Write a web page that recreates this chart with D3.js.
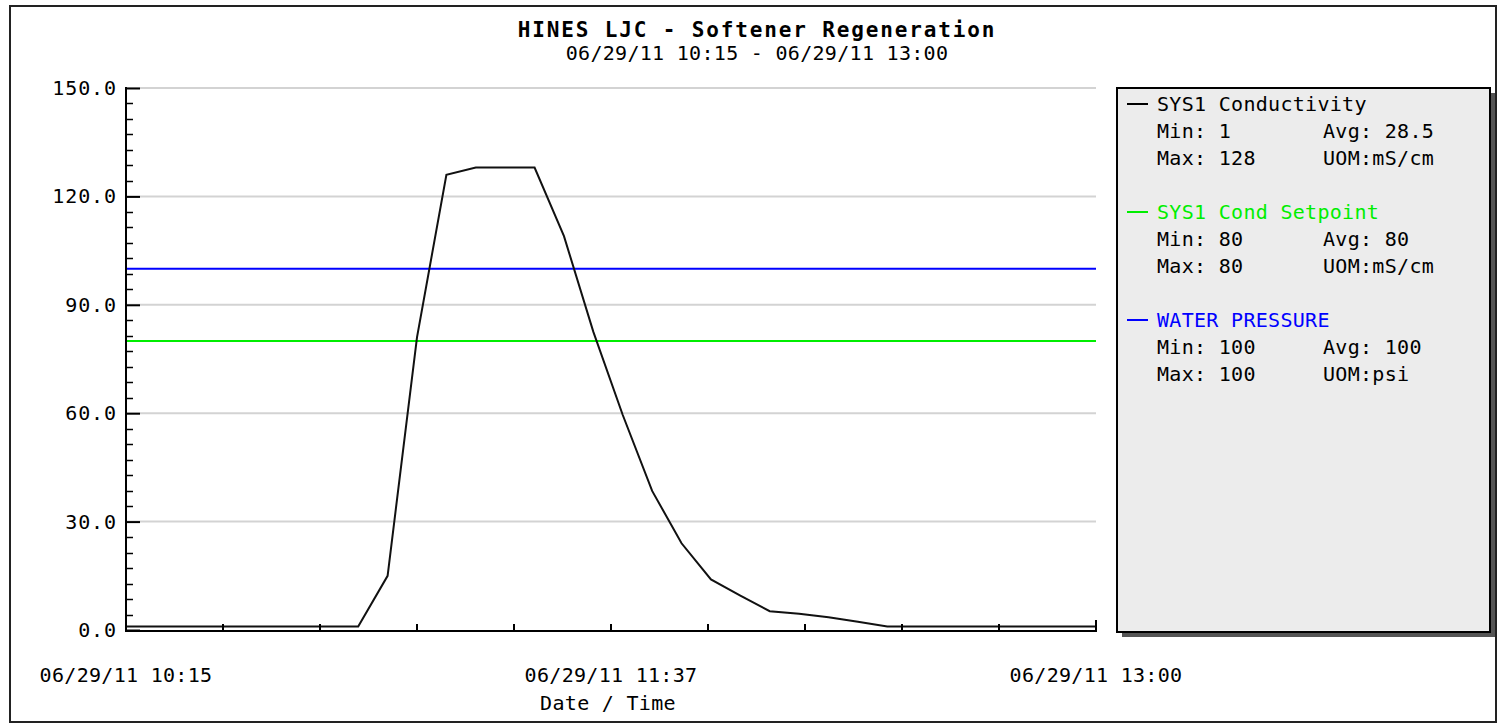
<!DOCTYPE html>
<html>
<head>
<meta charset="utf-8">
<script src="https://cdn.jsdelivr.net/npm/d3@7"></script>
<style>
  html, body { margin: 0; padding: 0; background: #fff; }
  svg { display: block; }
  text { font-family: "DejaVu Sans Mono", "Liberation Mono", monospace; }
</style>
</head>
<body>
<svg id="chart" width="1501" height="726"></svg>
<script>
// ---------------- data ----------------
const titleText = "HINES LJC - Softener Regeneration";
const subtitleText = "06/29/11 10:15 - 06/29/11 13:00";
const startTime = "2011-06-29T10:15:00";
const endTime = "2011-06-29T13:00:00";

const condTimes = ["10:15:00","10:54:30","10:59:30","11:04:30","11:09:30","11:14:30","11:19:30",
  "11:24:30","11:29:30","11:34:30","11:39:30","11:44:30","11:49:30","11:54:30","11:59:30",
  "12:04:30","12:09:30","12:14:30","12:19:30","12:24:30","13:00:00"];
const condValues = [1, 1, 15, 81, 126, 128, 128, 128, 109, 82.5, 59.5, 38.5, 24, 14, 9.5,
  5.2, 4.5, 3.5, 2.3, 1, 1];

const setpointTimes = ["10:15:00", "13:00:00"];
const setpointValues = [80, 80];
const pressureTimes = ["10:15:00", "13:00:00"];
const pressureValues = [100, 100];

const yTicks = [0, 30, 60, 90, 120, 150];
const xLabelTicks = ["10:15:00", "11:37:30", "13:00:00"];
const xLabelText = ["06/29/11 10:15", "06/29/11 11:37", "06/29/11 13:00"];
const xAxisTitle = "Date / Time";

const legendItems = [
  { name: "SYS1 Conductivity", color: "#000000", min: "1", max: "128", avg: "28.5", uom: "mS/cm" },
  { name: "SYS1 Cond Setpoint", color: "#00ee00", min: "80", max: "80", avg: "80", uom: "mS/cm" },
  { name: "WATER PRESSURE", color: "#0000ff", min: "100", max: "100", avg: "100", uom: "psi" }
];

// ---------------- helpers ----------------
const parseT = t => new Date("2011-06-29T" + t);
const svg = d3.select("#chart");
const FS = 20, LS = 0.3;

// outer frame
svg.append("rect").attr("x", 10).attr("y", 6).attr("width", 1486).attr("height", 716)
  .attr("fill", "#fff").attr("stroke", "#222").attr("stroke-width", 2);

// titles
svg.append("text").attr("x", 757).attr("y", 37).attr("text-anchor", "middle")
  .attr("font-size", 21).attr("font-weight", "bold").attr("letter-spacing", 1.85)
  .attr("fill", "#000").text(titleText);
svg.append("text").attr("x", 757).attr("y", 60).attr("text-anchor", "middle")
  .attr("font-size", FS).attr("letter-spacing", LS)
  .attr("fill", "#000").text(subtitleText);

// scales
const x = d3.scaleTime().domain([new Date(startTime), new Date(endTime)]).range([126, 1096]);
const y = d3.scaleLinear().domain([0, 150]).range([630, 88]);

const plot = svg.append("g");

// gridlines
plot.selectAll("line.grid").data(yTicks.filter(v => v > 0)).enter().append("line")
  .attr("x1", 126).attr("x2", 1096)
  .attr("y1", d => y(d)).attr("y2", d => y(d))
  .attr("stroke", "#d3d3d3").attr("stroke-width", 2);

// y axis (major + minor ticks)
const yAxis = d3.axisRight(y).tickValues(yTicks).tickSize(14).tickFormat("");
const yAxisG = svg.append("g").attr("transform", "translate(126,0)").call(yAxis);
yAxisG.select(".domain").remove();
yAxisG.selectAll("line").attr("stroke", "#000").attr("stroke-width", 2);
const minor = [];
for (let i = 0; i < yTicks.length - 1; i++) {
  const a = yTicks[i], b = yTicks[i + 1];
  for (let k = 1; k < 7; k++) minor.push(a + (b - a) * k / 7);
}
svg.append("g").selectAll("line").data(minor).enter().append("line")
  .attr("x1", 126).attr("x2", 133)
  .attr("y1", d => Math.round(y(d)) + 0.5).attr("y2", d => Math.round(y(d)) + 0.5)
  .attr("stroke", "#000").attr("stroke-width", 1.5);
svg.append("line").attr("x1", 126).attr("x2", 126).attr("y1", 87).attr("y2", 632)
  .attr("stroke", "#000").attr("stroke-width", 2);
svg.append("g").selectAll("text").data(yTicks).enter().append("text")
  .attr("x", 117).attr("y", d => y(d) + 7).attr("text-anchor", "end")
  .attr("font-size", FS).attr("letter-spacing", 0.9).attr("fill", "#000")
  .text(d => d.toFixed(1));

// x axis
const t0 = new Date(startTime), t1 = new Date(endTime);
const xTickVals = d3.range(11).map(i => new Date(+t0 + i * (t1 - t0) / 10));
svg.append("line").attr("x1", 126).attr("x2", 1097).attr("y1", 631).attr("y2", 631)
  .attr("stroke", "#000").attr("stroke-width", 2);
svg.append("g").selectAll("line").data(xTickVals).enter().append("line")
  .attr("x1", d => x(d)).attr("x2", d => x(d))
  .attr("y1", 631).attr("y2", (d, i) => i === 10 ? 620 : 624)
  .attr("stroke", "#000").attr("stroke-width", 2);
svg.append("g").selectAll("text").data(xLabelTicks).enter().append("text")
  .attr("x", d => x(parseT(d))).attr("y", 682).attr("text-anchor", "middle")
  .attr("font-size", FS).attr("letter-spacing", LS).attr("fill", "#000")
  .text((d, i) => xLabelText[i]);
svg.append("text").attr("x", 608).attr("y", 710).attr("text-anchor", "middle")
  .attr("font-size", FS).attr("letter-spacing", LS).attr("fill", "#000").text(xAxisTitle);

// series lines
const line = d3.line().x(d => x(d.t)).y(d => y(d.v));
const mk = (ts, vs) => ts.map((t, i) => ({ t: parseT(t), v: vs[i] }));
plot.append("path").datum(mk(pressureTimes, pressureValues)).attr("d", line)
  .attr("fill", "none").attr("stroke", "#0000ff").attr("stroke-width", 2);
plot.append("path").datum(mk(setpointTimes, setpointValues)).attr("d", line)
  .attr("fill", "none").attr("stroke", "#00ee00").attr("stroke-width", 2);
plot.append("path").datum(mk(condTimes, condValues)).attr("d", line)
  .attr("fill", "none").attr("stroke", "#111").attr("stroke-width", 2);

// legend
const lg = svg.append("g");
lg.append("rect").attr("x", 1122).attr("y", 93).attr("width", 373).attr("height", 544).attr("fill", "#555");
lg.append("rect").attr("x", 1117).attr("y", 88).attr("width", 373).attr("height", 544)
  .attr("fill", "#ececec").attr("stroke", "#000").attr("stroke-width", 2);
legendItems.forEach((it, i) => {
  const y0 = 104 + i * 108;
  lg.append("line").attr("x1", 1127).attr("x2", 1148).attr("y1", y0).attr("y2", y0)
    .attr("stroke", it.color).attr("stroke-width", 2);
  const t = (tx, ty, s, c) => lg.append("text").attr("x", tx).attr("y", ty + 7)
    .attr("font-size", FS).attr("letter-spacing", LS).attr("fill", c).text(s);
  t(1157, y0, it.name, it.color);
  t(1157, y0 + 27, "Min: " + it.min, "#000");
  t(1323, y0 + 27, "Avg: " + it.avg, "#000");
  t(1157, y0 + 54, "Max: " + it.max, "#000");
  t(1323, y0 + 54, "UOM:" + it.uom, "#000");
});
</script>
</body>
</html>
